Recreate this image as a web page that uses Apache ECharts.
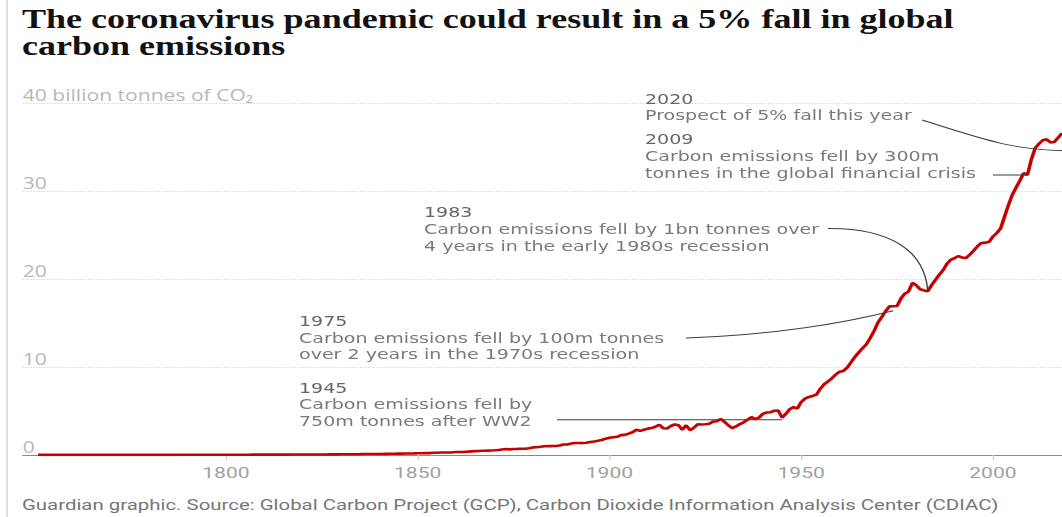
<!DOCTYPE html>
<html>
<head>
<meta charset="utf-8">
<script src="https://cdn.jsdelivr.net/npm/echarts@6.0.0/dist/echarts.min.js"></script>
<style>
html,body{margin:0;padding:0;background:#fff;overflow:hidden;width:1062px;height:517px;}
#c{height:517px;transform-origin:0 0;}
</style>
</head>
<body>
<div id="c"></div>
<script>
// ---------------- data ----------------
const FIRST_YEAR = 1751;
const emissions1751to1800 = [
0.009,0.009,0.009,0.009,0.009,0.010,0.010,0.010,0.010,0.010,
0.010,0.010,0.010,0.011,0.011,0.011,0.011,0.011,0.012,0.012,
0.012,0.013,0.013,0.013,0.014,0.014,0.015,0.015,0.015,0.016,
0.016,0.017,0.017,0.018,0.018,0.019,0.019,0.020,0.020,0.021,
0.022,0.022,0.023,0.024,0.024,0.025,0.026,0.026,0.027,0.028];
const emissions1801to1850 = [
0.029,0.036,0.033,0.034,0.034,0.036,0.037,0.037,0.038,0.039,
0.040,0.041,0.042,0.043,0.044,0.048,0.051,0.052,0.052,0.053,
0.053,0.056,0.058,0.060,0.063,0.064,0.066,0.067,0.068,0.088,
0.086,0.087,0.090,0.091,0.095,0.107,0.108,0.112,0.116,0.121,
0.125,0.132,0.135,0.143,0.158,0.160,0.170,0.174,0.183,0.198];
const emissions1851to1900 = [
0.199,0.209,0.216,0.253,0.260,0.279,0.283,0.286,0.304,0.333,
0.348,0.356,0.381,0.410,0.436,0.447,0.476,0.495,0.520,0.539,
0.572,0.634,0.674,0.638,0.689,0.700,0.714,0.718,0.769,0.865,
0.890,0.938,0.997,1.008,1.015,1.030,1.081,1.198,1.198,1.304,
1.363,1.370,1.356,1.403,1.488,1.535,1.612,1.704,1.858,1.957];
const emissions1901to1950 = [
2.022,2.074,2.261,2.286,2.429,2.590,2.873,2.748,2.876,3.001,
3.063,3.221,3.440,3.050,3.020,3.300,3.470,3.380,2.850,3.380,
2.820,3.100,3.480,3.470,3.500,3.560,3.800,3.840,4.100,3.760,
3.380,3.050,3.250,3.520,3.720,4.020,4.300,4.080,4.250,4.680,
4.830,4.870,5.030,5.060,4.250,4.680,5.200,5.450,5.280,6.030];
const emissions1951to2000 = [
6.420,6.600,6.720,6.880,7.550,8.050,8.380,8.720,9.150,9.480,
9.560,9.930,10.550,11.150,11.650,12.150,12.600,13.300,14.100,15.050,
15.700,16.350,16.900,16.920,16.950,17.800,18.350,18.600,19.580,19.300,
18.850,18.720,18.620,19.320,19.920,20.500,21.020,21.760,22.200,22.400,
22.620,22.450,22.420,22.800,23.250,23.750,24.120,24.150,24.250,24.850];
const emissions2001to2018 = [
25.250,25.780,27.080,28.380,29.550,30.400,31.200,32.050,31.850,33.600,
34.900,35.400,35.800,35.900,35.550,35.600,36.100,36.600];

const xTickYears = [1800, 1850, 1900, 1950, 2000];
const yTicks = [0, 10, 20, 30, 40];
const yUnitLabel = '40 billion tonnes of CO₂';

const titleLines = ['The coronavirus pandemic could result in a 5% fall in global', 'carbon emissions'];
const sourceText = 'Guardian graphic. Source: Global Carbon Project (GCP), Carbon Dioxide Information Analysis Center (CDIAC)';

// annotations: heading, body lines, anchor on the data [year, value]
const annHeads = ['2020', '2009', '1983', '1975', '1945'];
const annBodies = [
  ['Prospect of 5% fall this year'],
  ['Carbon emissions fell by 300m', 'tonnes in the global financial crisis'],
  ['Carbon emissions fell by 1bn tonnes over', '4 years in the early 1980s recession'],
  ['Carbon emissions fell by 100m tonnes', 'over 2 years in the 1970s recession'],
  ['Carbon emissions fell by', '750m tonnes after WW2']
];
const annAnchors = [[2020, 34.6], [2009, 31.85], [1983, 18.62], [1974, 16.4], [1945, 4.0]];

// ---------------- layout (reference pixels) ----------------
const S = 1.36;               // horizontal stretch of the reference
const W = 1062 / S;
const X = px => px / S;
const el = document.getElementById('c');
el.style.width = W + 'px';
el.style.transform = 'scaleX(' + S + ')';

const annLayout = [
  {x: 645, base: 103.3, lh: 16.7, kind: 'curve', start: [922, 120], cp1: [985, 140], cp2: [1015, null]},
  {x: 645, base: 144, lh: 16.7, kind: 'hline', start: [993, null]},
  {x: 424, base: 216.7, lh: 16.7, kind: 'curve', start: [828, 228.5], cp1: [892, 228], cp2: [925, 252]},
  {x: 299, base: 326, lh: 16.4, kind: 'quad', start: [686, 338], cp1: [800, 334]},
  {x: 299, base: 392.7, lh: 16.2, kind: 'hline', start: [557, null]}
];

const years = [];
const allValues = [].concat(emissions1751to1800, emissions1801to1850, emissions1851to1900,
  emissions1901to1950, emissions1951to2000, emissions2001to2018);
for (let i = 0; i < allValues.length; i++) years.push(FIRST_YEAR + i);
const seriesData = years.map((y, i) => [y, allValues[i]]);

const ANN_FONT = 'DejaVu Sans';
const chart = echarts.init(el, null, {renderer: 'svg', width: W, height: 517});

chart.setOption({
  animation: false,
  backgroundColor: '#fff',
  grid: {left: X(22.7), right: 0, top: 103.3, bottom: 62, containLabel: false},
  xAxis: {
    type: 'value', min: 1747, max: 2018,
    axisLine: {show: true, lineStyle: {color: '#8a8a8a', width: 1}},
    axisTick: {show: true, customValues: xTickYears, length: 5, lineStyle: {color: '#cfcfcf', width: 1}},
    axisLabel: {customValues: xTickYears, color: '#a0a0a0', fontFamily: 'Roboto', fontSize: 15.5, margin: 10,
      formatter: v => String(v)},
    splitLine: {show: false}
  },
  yAxis: {
    type: 'value', min: 0, max: 40, interval: 10,
    axisLine: {show: false}, axisTick: {show: false},
    axisLabel: {
      inside: true, margin: 0, verticalAlign: 'bottom', align: 'left',
      color: '#b8b8b8', fontFamily: 'Open Sans', fontSize: 15.5, lineHeight: 17,
      formatter: v => v === yTicks[yTicks.length - 1] ? yUnitLabel : String(v)
    },
    splitLine: {show: true, lineStyle: {type: 'dotted', color: '#d6d6d6', width: 1}}
  },
  series: [{
    type: 'line', data: seriesData, showSymbol: false, symbol: 'none',
    lineStyle: {color: '#c70000', width: 2.6}, z: 3
  }]
});

// ---------------- annotations and texts ----------------
const g = [];
g.push({type: 'line', shape: {x1: X(7), y1: 0, x2: X(7), y2: 517}, style: {stroke: '#dedede', lineWidth: 1.5}});
g.push({type: 'text', style: {
  text: titleLines.join('\n'), x: X(22), y: 32.5, lineHeight: 26.5, fill: '#121212', fontFamily: 'Liberation Serif',
  fontWeight: 'bold', fontSize: 26.5, align: 'left', verticalAlign: 'middle'}});
g.push({type: 'text', style: {text: sourceText, x: X(22), y: 505, fill: '#767676',
  fontFamily: 'Roboto', fontSize: 15, align: 'left', verticalAlign: 'middle'}});

annHeads.forEach((head, i) => {
  const L = annLayout[i];
  const lines = [head].concat(annBodies[i]);
  lines.forEach((t, j) => g.push({type: 'text', z: 10, style: {
    text: t, x: X(L.x), y: L.base + j * L.lh - 4.6, fill: j === 0 ? '#666' : '#7a7a7a',
    fontFamily: ANN_FONT, fontSize: 14, align: 'left', verticalAlign: 'middle'}}));
  const p = chart.convertToPixel({gridIndex: 0}, annAnchors[i]);
  const style = {stroke: '#3c3c3c', lineWidth: 1, fill: null};
  if (L.kind === 'hline') {
    g.push({type: 'line', z: 9, shape: {x1: X(L.start[0]), y1: p[1], x2: p[0], y2: p[1]}, style});
  } else if (L.kind === 'quad') {
    g.push({type: 'bezierCurve', z: 9, shape: {x1: X(L.start[0]), y1: L.start[1], x2: p[0], y2: p[1],
      cpx1: X(L.cp1[0]), cpy1: L.cp1[1]}, style});
  } else {
    g.push({type: 'bezierCurve', z: 9, shape: {x1: X(L.start[0]), y1: L.start[1], x2: p[0], y2: p[1],
      cpx1: X(L.cp1[0]), cpy1: L.cp1[1], cpx2: X(L.cp2[0]), cpy2: L.cp2[1] == null ? p[1] : L.cp2[1]}, style});
  }
});
chart.setOption({graphic: g});
</script>
</body>
</html>
